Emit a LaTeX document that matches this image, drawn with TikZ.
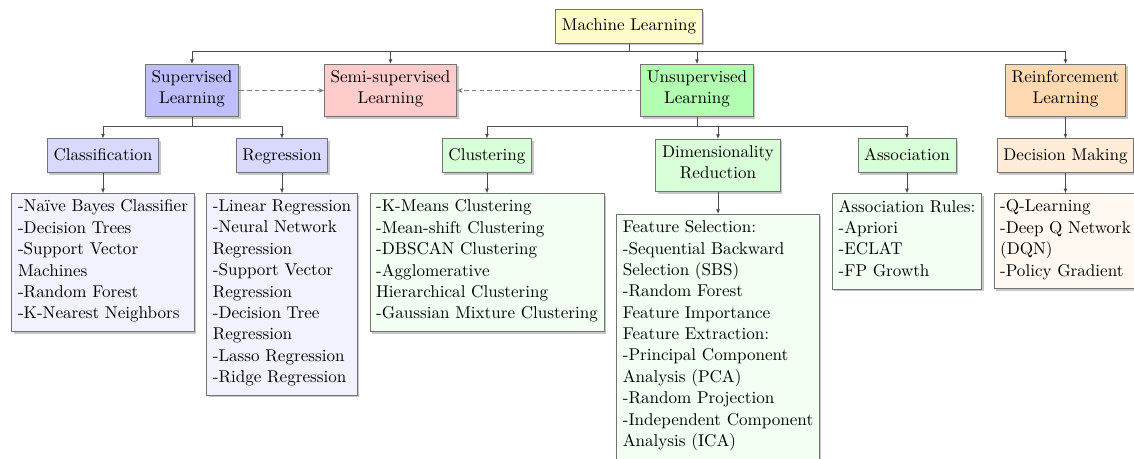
\documentclass[tikz,border=0pt]{standalone}
\usepackage{fontspec}
\usetikzlibrary{arrows.meta,shadows,calc}
\begin{document}
\begin{tikzpicture}[x=0.641pt,y=-0.641pt,
  box/.style={draw=black!55, line width=0.5pt, inner sep=4pt, align=center,
    font=\fontsize{10.95}{13.7}\selectfont,
    execute at begin node={\strut}, execute at end node={\strut},
    drop shadow={shadow xshift=1.3pt, shadow yshift=-1.3pt, opacity=0.4, fill=black!55}},
  leaf/.style={box, align=left, anchor=north},
  conn/.style={draw=black!70, line width=0.5pt, -{Latex[length=3pt,width=2.6pt]}},
  dashlink/.style={draw=black!50, line width=0.5pt, dash pattern=on 3pt off 2pt, -{Stealth[length=3.5pt,width=3pt]}}
]
\useasboundingbox (0,0) rectangle (1134,459);
\coordinate (b0) at (0,51.7);
\coordinate (b1) at (0,126.5);
\coordinate (row) at (0,193.3);
\coordinate (rowd) at (0,214);

\node[box, fill=yellow!20] (ml) at (629,26.5) {Machine Learning};
\node[box, fill=blue!25] (sup) at (192,90.5) {Supervised\\Learning};
\node[box, fill=red!20] (semi) at (390.5,90.5) {Semi-supervised\\Learning};
\node[box, fill=green!30] (uns) at (697,90.5) {Unsupervised\\Learning};
\node[box, fill=orange!30] (rl) at (1065.5,90.5) {Reinforcement\\Learning};

\node[box, fill=blue!15] (cls) at (103,155.8) {Classification};
\node[box, fill=blue!15] (reg) at (282,155.8) {Regression};
\node[box, fill=green!15] (clu) at (487,155.8) {Clustering};
\node[box, fill=green!15, anchor=north] (dim) at (718,139) {Dimensionality\\Reduction};
\node[box, fill=green!15] (asc) at (907,155.8) {Association};
\node[box, fill=orange!15] (dm) at (1065.5,155.8) {Decision Making};

\node[leaf, fill=blue!5] (clsl) at (cls |- row) {-Naïve Bayes Classifier\\-Decision Trees\\-Support Vector\\Machines\\-Random Forest\\-K-Nearest Neighbors};
\node[leaf, fill=blue!5] (regl) at (reg |- row) {-Linear Regression\\-Neural Network\\Regression\\-Support Vector\\Regression\\-Decision Tree\\Regression\\-Lasso Regression\\-Ridge Regression};
\node[leaf, fill=green!5] (clul) at (clu |- row) {-K-Means Clustering\\-Mean-shift Clustering\\-DBSCAN Clustering\\-Agglomerative\\Hierarchical Clustering\\-Gaussian Mixture Clustering};
\node[leaf, fill=green!5] (diml) at (dim |- rowd) {Feature Selection:\\-Sequential Backward\\Selection (SBS)\\-Random Forest\\Feature Importance\\Feature Extraction:\\-Principal Component\\Analysis (PCA)\\-Random Projection\\-Independent Component\\Analysis (ICA)};
\node[leaf, fill=green!5] (ascl) at (asc |- row) {Association Rules:\\-Apriori\\-ECLAT\\-FP Growth};
\node[leaf, fill=orange!5] (rll) at (dm |- row) {-Q-Learning\\-Deep Q Network\\(DQN)\\-Policy Gradient};

\foreach \c in {sup,semi,uns,rl}
  \draw[conn] (ml.south) |- (b0 -| \c) -- (\c.north);
\foreach \c in {cls,reg}
  \draw[conn] (sup.south) |- (b1 -| \c) -- (\c.north);
\foreach \c in {clu,dim,asc}
  \draw[conn] (uns.south) |- (b1 -| \c) -- (\c.north);
\draw[conn] (rl.south) -- (dm.north);

\draw[dashlink] (sup.east) -- (semi.west);
\draw[dashlink] (uns.west) -- (semi.east);

\draw[conn] (cls.south) -- (clsl.north);
\draw[conn] (reg.south) -- (regl.north);
\draw[conn] (clu.south) -- (clul.north);
\draw[conn] (dim.south) -- (diml.north);
\draw[conn] (asc.south) -- (ascl.north);
\draw[conn] (dm.south) -- (rll.north);
\end{tikzpicture}
\end{document}
